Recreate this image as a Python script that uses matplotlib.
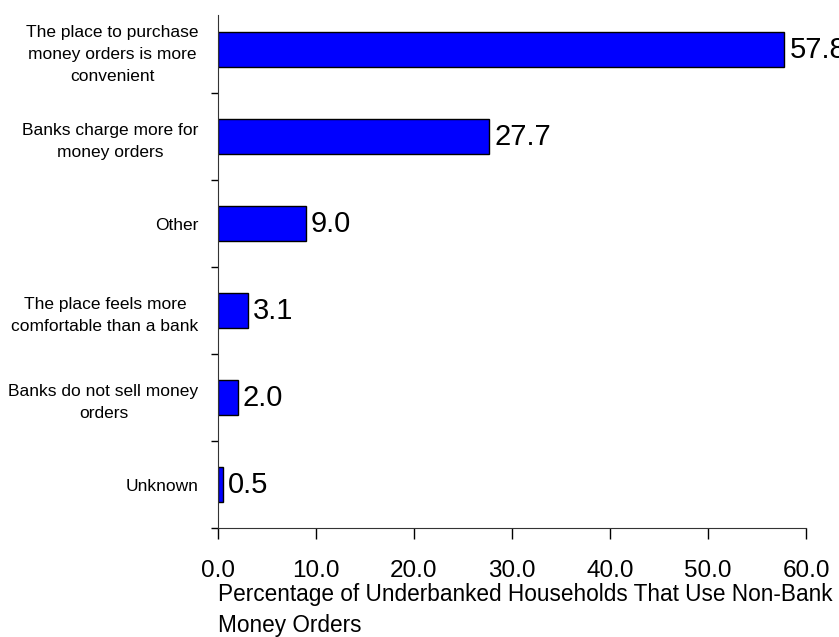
import numpy as np
import matplotlib
matplotlib.use("Agg")
from matplotlib import pyplot as plt

plt.rcParams['font.family'] = ['Liberation Sans', 'DejaVu Sans']

# reasons, top to bottom
reasons = ['The place to purchase\nmoney orders is more\nconvenient',
           'Banks charge more for\nmoney orders',
           'Other',
           'The place feels more\ncomfortable than a bank',
           'Banks do not sell money\norders',
           'Unknown']
pct = [57.8, 27.7, 9.0, 3.1, 2.0, 0.5]
xticks = [0, 10, 20, 30, 40, 50, 60]

fig = plt.figure(figsize=(8.39, 6.37), dpi=100)
ax = fig.add_axes([0.2598, 0.1711, 0.7009, 0.8054])

y = np.arange(len(reasons))
ax.barh(y, pct, height=0.4, color='#0000ff', edgecolor='black', linewidth=1)

for yi, v in zip(y, pct):
    ax.text(v + 0.5, yi, '%.1f' % v, va='center', ha='left', fontsize=21, clip_on=False)

ax.set_xlim(0, 60)
ax.set_ylim(len(reasons) - 0.5, -0.4)

ax.set_xticks(xticks)
ax.set_xticklabels(['%.1f' % t for t in xticks], fontsize=17.5)
ax.tick_params(axis='x', length=8, width=1, pad=15, direction='out')

# category names at bar centers, ticks at the band edges
ax.set_yticks(y)
ax.set_yticklabels(reasons, fontsize=12.5, linespacing=1.55)
for lab in ax.get_yticklabels():
    lab.set_multialignment('center')
ax.tick_params(axis='y', which='major', length=0, pad=14)
ax.set_yticks(np.arange(len(reasons)) + 0.5, minor=True)
ax.tick_params(axis='y', which='minor', length=5, width=1, direction='out')

for s in ['top', 'right']:
    ax.spines[s].set_visible(False)
ax.spines['left'].set_color('#333333')
ax.spines['bottom'].set_color('#333333')

fig.text(0.2598, 0.0, 'Percentage of Underbanked Households That Use Non-Bank\nMoney Orders',
         ha='left', va='bottom', fontsize=16.3, linespacing=1.45)

fig.savefig('out.png', dpi=100)
